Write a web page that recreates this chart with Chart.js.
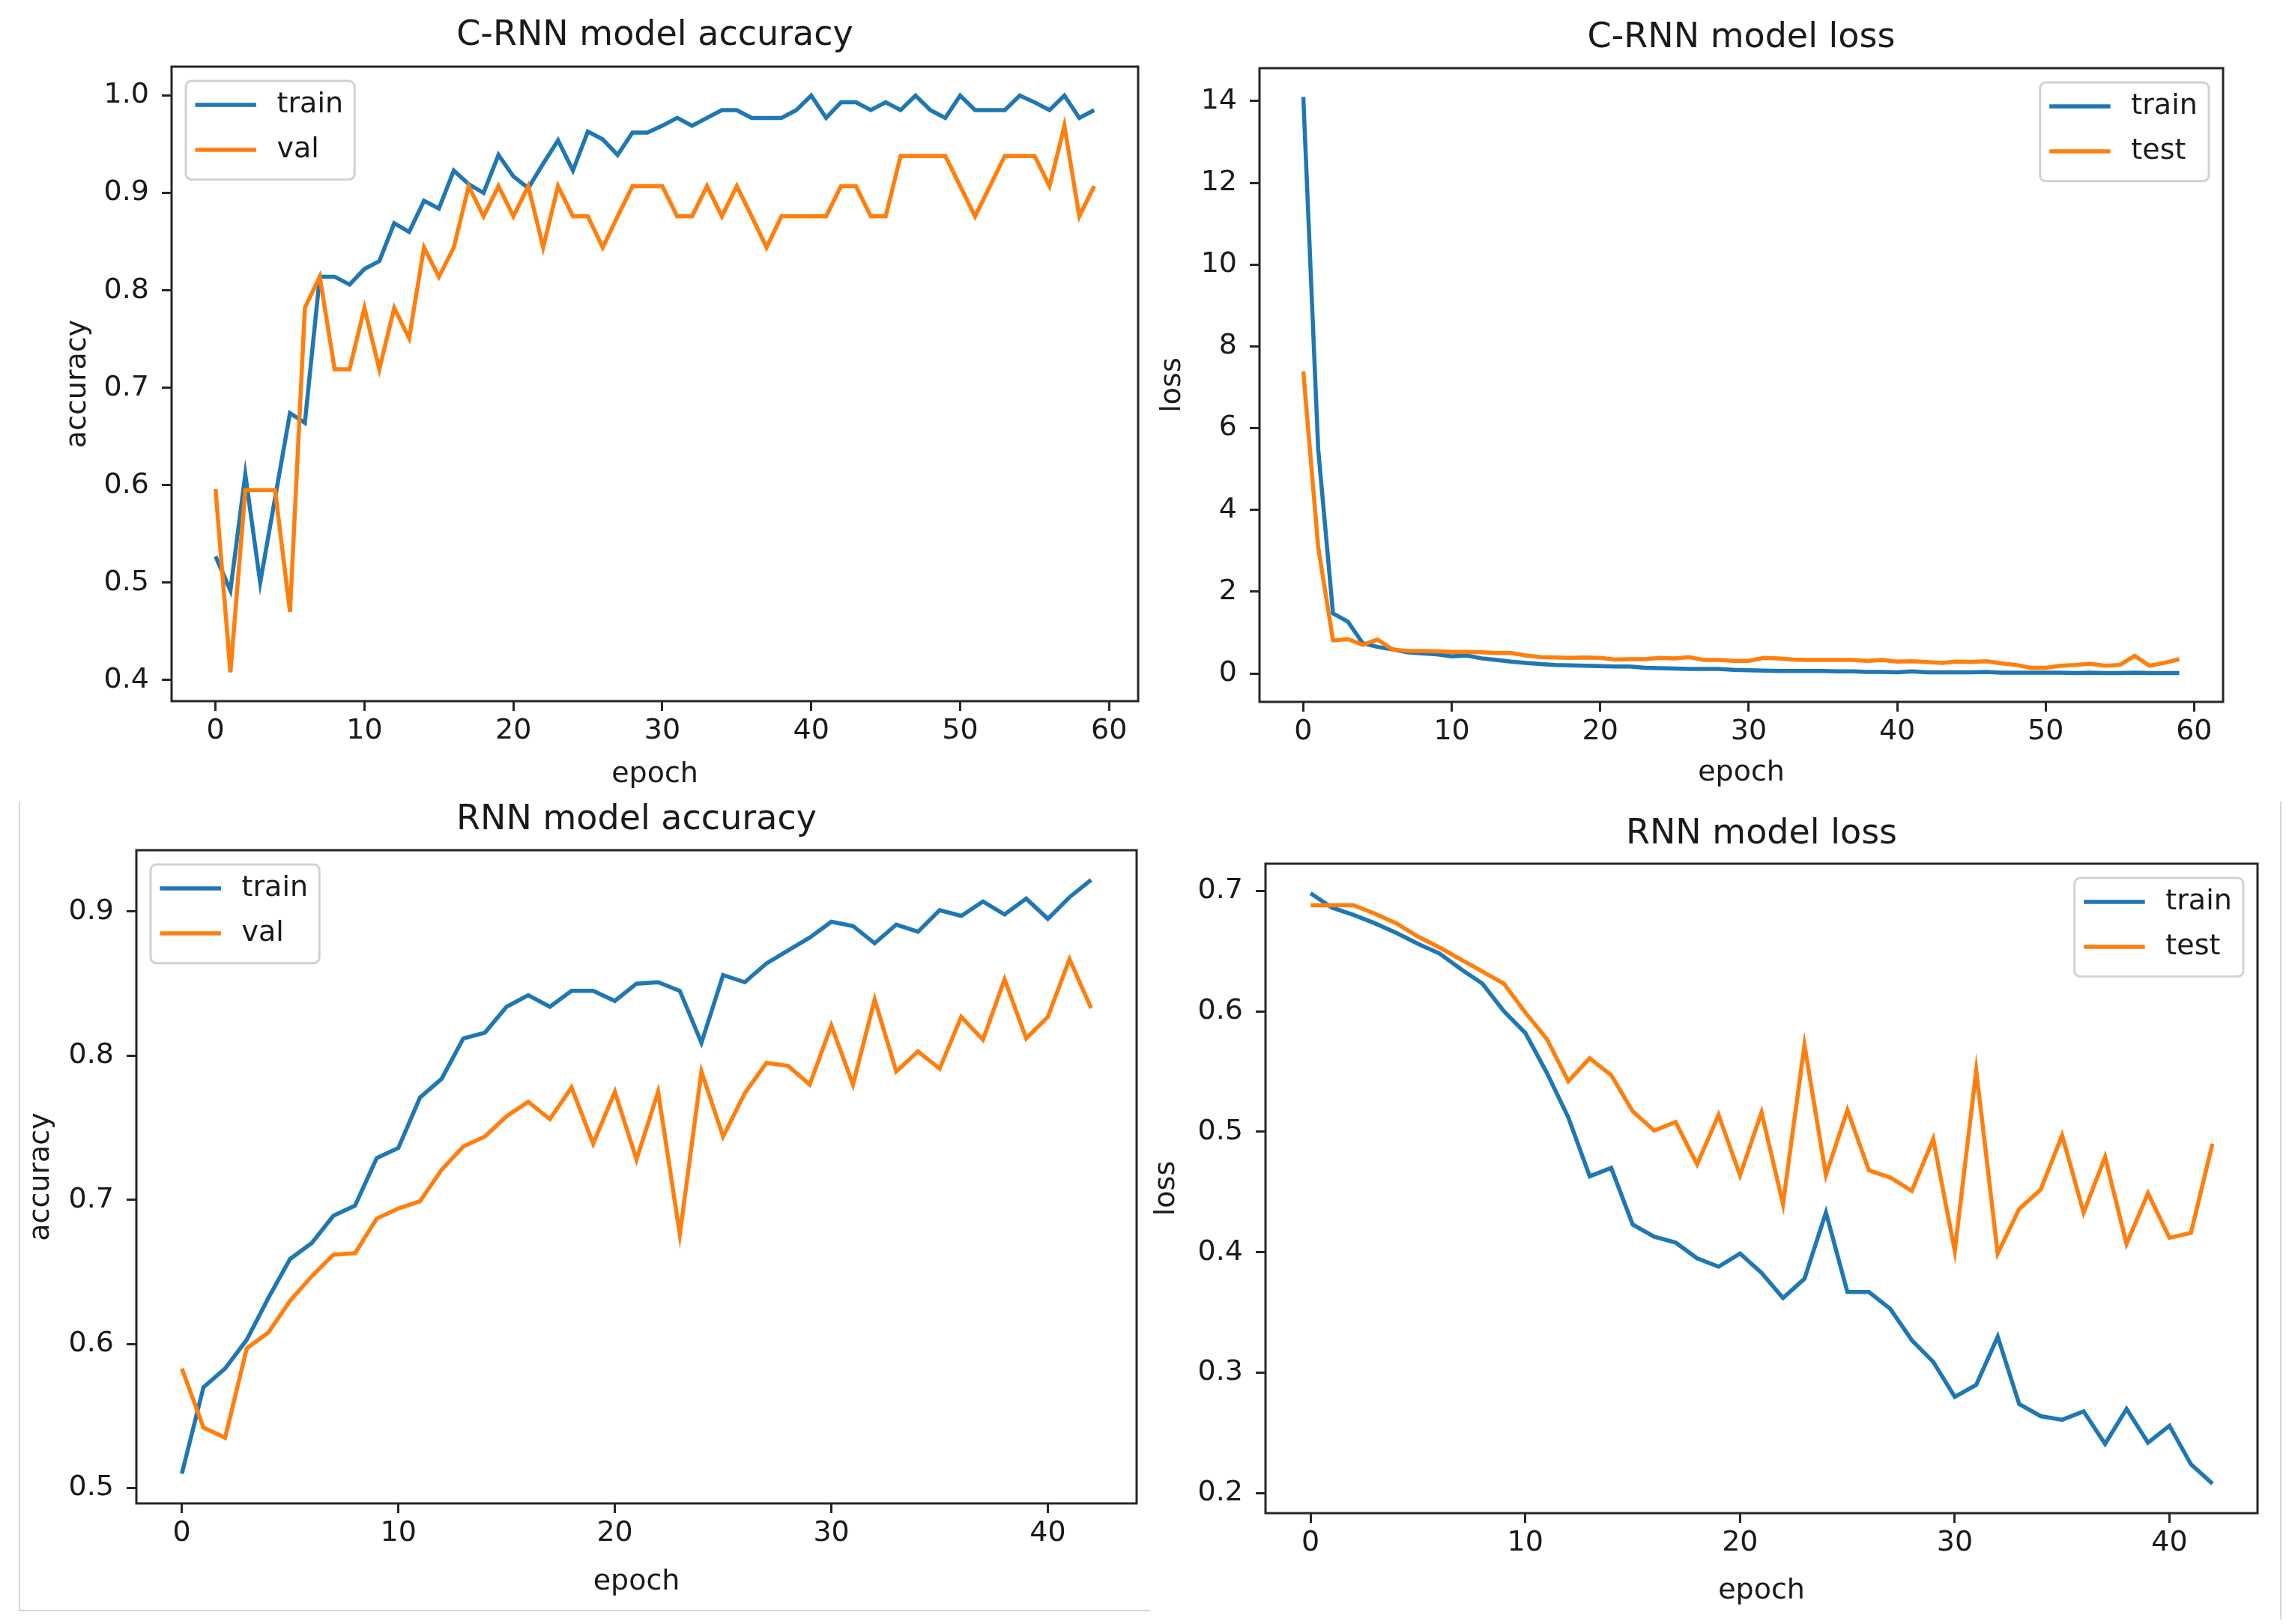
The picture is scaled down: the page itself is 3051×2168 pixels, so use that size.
<!DOCTYPE html>
<html>
<head>
<meta charset="utf-8">
<title>C-RNN / RNN training curves</title>
<script src="https://cdn.jsdelivr.net/npm/chart.js@4.4.1/dist/chart.umd.min.js"></script>
<style>
    html, body { margin: 0; padding: 0; background: #ffffff; }
    body { width: 3051px; height: 2168px; position: relative; overflow: hidden; }
    canvas { position: absolute; }
    .sheet { position: absolute; border: 0 solid #d6d6d6; }
</style>
</head>
<body>
<!-- faint edges of the pasted screenshots -->
<div class="sheet" style="left:25px; top:1070px; width:1508px; height:1079px; border-left-width:2px; border-bottom-width:2px;"></div>
<div class="sheet" style="left:3043px; top:1070px; width:0; height:1092px; border-left-width:2px;"></div>

<canvas id="crnnAccChart" width="1485" height="1060" style="left:40px; top:0;"></canvas>
<canvas id="crnnLossChart" width="1515" height="1060" style="left:1525px; top:0;"></canvas>
<canvas id="rnnAccChart" width="1515" height="1108" style="left:10px; top:1060px;"></canvas>
<canvas id="rnnLossChart" width="1526" height="1108" style="left:1525px; top:1060px;"></canvas>

<script>
// ---- data ----
const crnnEpochs = Array.from({ length: 60 }, (_, i) => i);
const rnnEpochs = Array.from({ length: 43 }, (_, i) => i);

const crnnAccTrain = [
    0.527, 0.492, 0.611, 0.500, 0.587, 0.674, 0.664, 0.814, 0.814, 0.806,
    0.822, 0.830, 0.869, 0.860, 0.892, 0.884, 0.923, 0.909, 0.900, 0.939,
    0.917, 0.905, 0.930, 0.954, 0.923, 0.963, 0.955, 0.939, 0.962, 0.962,
    0.969, 0.977, 0.969, 0.977, 0.985, 0.985, 0.977, 0.977, 0.977, 0.985,
    1.000, 0.977, 0.993, 0.993, 0.985, 0.993, 0.985, 1.000, 0.985, 0.977,
    1.000, 0.985, 0.985, 0.985, 1.000, 0.993, 0.985, 1.000, 0.977, 0.985
];
const crnnAccVal = [
    0.596, 0.408, 0.595, 0.595, 0.595, 0.470, 0.782, 0.814, 0.719, 0.719,
    0.782, 0.719, 0.782, 0.751, 0.844, 0.814, 0.844, 0.907, 0.876, 0.907,
    0.876, 0.907, 0.844, 0.907, 0.876, 0.876, 0.844, 0.876, 0.907, 0.907,
    0.907, 0.876, 0.876, 0.907, 0.876, 0.907, 0.876, 0.844, 0.876, 0.876,
    0.876, 0.876, 0.907, 0.907, 0.876, 0.876, 0.938, 0.938, 0.938, 0.938,
    0.907, 0.876, 0.907, 0.938, 0.938, 0.938, 0.907, 0.969, 0.876, 0.907
];

const crnnLossTrain = [
    14.1, 5.5, 1.47, 1.27, 0.74, 0.65, 0.59, 0.52, 0.49, 0.47,
    0.42, 0.44, 0.37, 0.33, 0.29, 0.26, 0.23, 0.21, 0.20, 0.19,
    0.18, 0.17, 0.17, 0.14, 0.13, 0.12, 0.11, 0.11, 0.11, 0.09,
    0.08, 0.07, 0.06, 0.06, 0.06, 0.06, 0.05, 0.05, 0.04, 0.04,
    0.03, 0.05, 0.03, 0.03, 0.03, 0.03, 0.04, 0.02, 0.02, 0.02,
    0.02, 0.02, 0.01, 0.02, 0.01, 0.01, 0.02, 0.01, 0.01, 0.01
];
const crnnLossTest = [
    7.39, 3.1, 0.81, 0.84, 0.70, 0.83, 0.59, 0.55, 0.55, 0.54,
    0.53, 0.53, 0.52, 0.50, 0.50, 0.44, 0.40, 0.39, 0.38, 0.39,
    0.38, 0.34, 0.35, 0.35, 0.38, 0.37, 0.40, 0.33, 0.33, 0.31,
    0.31, 0.38, 0.37, 0.34, 0.33, 0.33, 0.33, 0.33, 0.31, 0.33,
    0.29, 0.30, 0.28, 0.26, 0.29, 0.28, 0.30, 0.25, 0.21, 0.14,
    0.14, 0.19, 0.21, 0.24, 0.19, 0.21, 0.43, 0.19, 0.26, 0.35
];

const rnnAccTrain = [
    0.510, 0.570, 0.583, 0.603, 0.632, 0.659, 0.670, 0.689, 0.696, 0.729,
    0.736, 0.771, 0.784, 0.812, 0.816, 0.834, 0.842, 0.834, 0.845, 0.845,
    0.838, 0.850, 0.851, 0.845, 0.809, 0.856, 0.851, 0.864, 0.873, 0.882,
    0.893, 0.890, 0.878, 0.891, 0.886, 0.901, 0.897, 0.907, 0.898, 0.909,
    0.895, 0.910, 0.922
];
const rnnAccVal = [
    0.583, 0.542, 0.535, 0.597, 0.608, 0.630, 0.647, 0.662, 0.663, 0.687,
    0.694, 0.699, 0.721, 0.737, 0.744, 0.758, 0.768, 0.756, 0.778, 0.739,
    0.775, 0.728, 0.775, 0.676, 0.789, 0.744, 0.774, 0.795, 0.793, 0.780,
    0.821, 0.780, 0.839, 0.789, 0.803, 0.791, 0.827, 0.811, 0.853, 0.812,
    0.827, 0.867, 0.833
];

const rnnLossTrain = [
    0.698, 0.686, 0.680, 0.673, 0.665, 0.656, 0.648, 0.635, 0.623, 0.600,
    0.582, 0.549, 0.512, 0.463, 0.470, 0.423, 0.413, 0.408, 0.395, 0.388,
    0.399, 0.383, 0.362, 0.378, 0.433, 0.367, 0.367, 0.353, 0.327, 0.309,
    0.280, 0.290, 0.330, 0.274, 0.264, 0.261, 0.268, 0.241, 0.270, 0.242,
    0.256, 0.224, 0.208
];
const rnnLossTest = [
    0.688, 0.688, 0.688, 0.681, 0.673, 0.662, 0.653, 0.643, 0.633, 0.623,
    0.599, 0.577, 0.542, 0.561, 0.547, 0.517, 0.501, 0.508, 0.473, 0.514,
    0.464, 0.516, 0.440, 0.572, 0.464, 0.518, 0.468, 0.462, 0.451, 0.494,
    0.401, 0.551, 0.399, 0.436, 0.452, 0.497, 0.433, 0.479, 0.407, 0.449,
    0.412, 0.416, 0.490
];

// ---- look ----
Chart.defaults.font.family = '"DejaVu Sans", sans-serif';
Chart.defaults.color = '#1a1a1a';

const INK = '#262626';
const TRAIN_COLOR = '#1f77b4';
const VAL_COLOR = '#ff7f0e';
const TICK_FONT = 38;
const LINE_W = 5.5;

// matplotlib-style autoscale: 5% margin on both ends
function autoRange(seriesList) {
    const all = seriesList.flat();
    const lo = Math.min(...all);
    const hi = Math.max(...all);
    const m = (hi - lo) * 0.05;
    return { min: lo - m, max: hi + m };
}

// black box around the axes, like the matplotlib spines
const plotFrame = {
    id: 'plotFrame',
    afterDatasetsDraw(chart) {
        const { ctx, chartArea: { left, top, width, height } } = chart;
        ctx.save();
        ctx.lineWidth = 3;
        ctx.strokeStyle = INK;
        ctx.strokeRect(left, top, width, height);
        ctx.restore();
    }
};

// legend drawn inside the plot, in the upper corner
const mplLegend = {
    id: 'mplLegend',
    afterDatasetsDraw(chart, args, opts) {
        const { ctx, chartArea: a } = chart;
        const fs = opts.fontSize;
        const sets = chart.data.datasets;
        ctx.save();
        ctx.font = fs + 'px "DejaVu Sans"';
        const textW = Math.max(...sets.map(d => ctx.measureText(d.label).width));
        const w = fs * 3.6 + textW;
        const h = fs * 3.47;
        const x = opts.loc === 'right' ? a.right - fs * 0.5 - w : a.left + fs * 0.5;
        const y = a.top + fs * 0.5;

        ctx.beginPath();
        ctx.roundRect(x, y, w, h, fs * 0.2);
        ctx.fillStyle = 'rgba(255,255,255,0.8)';
        ctx.fill();
        ctx.lineWidth = 3;
        ctx.strokeStyle = '#d2d2d2';
        ctx.stroke();

        sets.forEach((d, i) => {
            const ry = y + fs * 0.84 + i * fs * 1.58;
            ctx.beginPath();
            ctx.moveTo(x + fs * 0.4, ry);
            ctx.lineTo(x + fs * 2.4, ry);
            ctx.lineCap = 'square';
            ctx.lineWidth = d.borderWidth;
            ctx.strokeStyle = d.borderColor;
            ctx.stroke();

            ctx.fillStyle = '#1a1a1a';
            ctx.textAlign = 'left';
            ctx.textBaseline = 'middle';
            ctx.fillText(d.label, x + fs * 3.2, ry);
        });
        ctx.restore();
    }
};

function buildChart(canvasId, cfg) {
    const xr = autoRange([cfg.epochs]);
    const yr = autoRange([cfg.train, cfg.val]);
    const box = cfg.box;

    return new Chart(document.getElementById(canvasId), {
        type: 'line',
        data: {
            labels: cfg.epochs,
            datasets: [
                {
                    label: 'train',
                    data: cfg.train,
                    borderColor: TRAIN_COLOR,
                    borderWidth: LINE_W,
                    pointRadius: 0,
                    tension: 0,
                    order: 1
                },
                {
                    label: cfg.valLabel,
                    data: cfg.val,
                    borderColor: VAL_COLOR,
                    borderWidth: LINE_W,
                    pointRadius: 0,
                    tension: 0,
                    order: 0
                }
            ]
        },
        plugins: [plotFrame, mplLegend],
        options: {
            responsive: false,
            devicePixelRatio: 1,
            animation: false,
            events: [],
            layout: {
                autoPadding: false,
                padding: { left: 0, top: 0, bottom: 0, right: box.padRight }
            },
            plugins: {
                legend: { display: false },
                tooltip: { enabled: false },
                title: {
                    display: true,
                    text: cfg.title,
                    fullSize: false,
                    color: '#1a1a1a',
                    font: { size: 46, weight: 'normal', lineHeight: 1.2 },
                    padding: { top: box.titleTop, bottom: box.titleBottom }
                },
                mplLegend: { loc: cfg.legendLoc, fontSize: TICK_FONT }
            },
            scales: {
                x: {
                    type: 'linear',
                    min: xr.min,
                    max: xr.max,
                    afterFit(scale) { scale.height = box.xAxisH; },
                    border: { display: false },
                    grid: {
                        drawOnChartArea: false,
                        drawTicks: true,
                        tickLength: 13,
                        tickWidth: 3,
                        tickColor: INK
                    },
                    ticks: {
                        stepSize: 10,
                        includeBounds: false,
                        maxRotation: 0,
                        autoSkip: false,
                        padding: 4,
                        color: '#1a1a1a',
                        font: { size: TICK_FONT }
                    },
                    title: {
                        display: true,
                        text: 'epoch',
                        color: '#1a1a1a',
                        font: { size: TICK_FONT, lineHeight: 1.2 },
                        padding: { top: 0, bottom: box.xTitlePad }
                    }
                },
                y: {
                    type: 'linear',
                    min: yr.min,
                    max: yr.max,
                    afterFit(scale) { scale.width = box.yAxisW; },
                    border: { display: false },
                    grid: {
                        drawOnChartArea: false,
                        drawTicks: true,
                        tickLength: 13,
                        tickWidth: 3,
                        tickColor: INK
                    },
                    ticks: {
                        stepSize: cfg.yStep,
                        includeBounds: false,
                        padding: 17,
                        color: '#1a1a1a',
                        font: { size: TICK_FONT },
                        callback: v => v.toFixed(cfg.yDecimals)
                    },
                    title: {
                        display: true,
                        text: cfg.yTitle,
                        color: '#1a1a1a',
                        font: { size: TICK_FONT, lineHeight: 1.2 },
                        padding: { top: box.yTitlePad, bottom: 0 }
                    }
                }
            }
        }
    });
}

buildChart('crnnAccChart', {
    title: 'C-RNN model accuracy', yTitle: 'accuracy', valLabel: 'val', legendLoc: 'left',
    epochs: crnnEpochs, train: crnnAccTrain, val: crnnAccVal, yStep: 0.1, yDecimals: 1,
    box: { yAxisW: 189, xAxisH: 124, padRight: 6, titleTop: 20, titleBottom: 13.8, yTitlePad: 41, xTitlePad: 3 }
});

buildChart('crnnLossChart', {
    title: 'C-RNN model loss', yTitle: 'loss', valLabel: 'test', legendLoc: 'right',
    epochs: crnnEpochs, train: crnnLossTrain, val: crnnLossTest, yStep: 2, yDecimals: 0,
    box: { yAxisW: 156, xAxisH: 123, padRight: 73, titleTop: 23.4, titleBottom: 12.4, yTitlePad: 17, xTitlePad: 5 }
});

buildChart('rnnAccChart', {
    title: 'RNN model accuracy', yTitle: 'accuracy', valLabel: 'val', legendLoc: 'left',
    epochs: rnnEpochs, train: rnnAccTrain, val: rnnAccVal, yStep: 0.1, yDecimals: 1,
    box: { yAxisW: 172, xAxisH: 161, padRight: 8, titleTop: 7.4, titleBottom: 12.4, yTitlePad: 22, xTitlePad: 33 }
});

buildChart('rnnLossChart', {
    title: 'RNN model loss', yTitle: 'loss', valLabel: 'test', legendLoc: 'right',
    epochs: rnnEpochs, train: rnnLossTrain, val: rnnLossTest, yStep: 0.1, yDecimals: 1,
    box: { yAxisW: 164, xAxisH: 148, padRight: 38, titleTop: 26.4, titleBottom: 11.4, yTitlePad: 9, xTitlePad: 21 }
});
</script>
</body>
</html>
